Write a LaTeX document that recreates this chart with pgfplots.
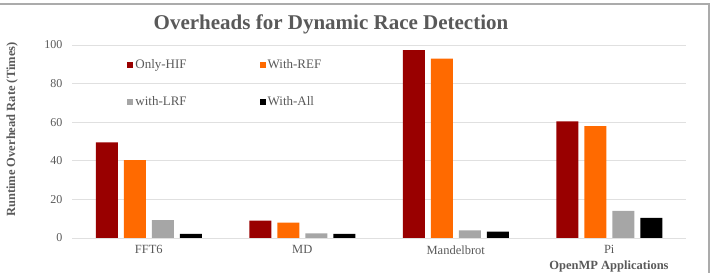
\documentclass[border=0pt]{standalone}
\usepackage{pgfplots}
\pgfplotsset{compat=1.18}
\usepackage{fontspec}
\setmainfont{Liberation Serif}

\definecolor{hif}{HTML}{990000}
\definecolor{ref}{HTML}{FF6A00}
\definecolor{lrf}{HTML}{A6A6A6}
\definecolor{allc}{HTML}{000000}
\definecolor{txt}{HTML}{595959}
\definecolor{gridc}{HTML}{E0E0E0}
\definecolor{frame}{HTML}{ABABAB}

\begin{document}
\begin{tikzpicture}[x=1pt,y=1pt]
% canvas and outer frame
\path[use as bounding box] (0,0) rectangle (714,273);
\draw[frame, line width=1.3pt] (0,269) -- (709,269) -- (709,0);

\node[txt, font=\fontsize{21}{25}\selectfont\bfseries] at (331,249) {Overheads for Dynamic Race Detection};
\node[txt, font=\fontsize{12.5}{15}\selectfont\bfseries, rotate=90] at (12,143.5) {Runtime Overhead Rate (Times)};
\node[txt, font=\fontsize{12.5}{15}\selectfont\bfseries] at (609,7) {OpenMP Applications};

\begin{axis}[
  at={(72pt,35pt)}, anchor=south west,
  scale only axis, width=614pt, height=193pt,
  xmin=-0.5, xmax=3.5, ymin=0, ymax=100,
  ybar=6pt, bar width=22pt,
  xtick={0,1,2,3},
  xticklabels={FFT6,MD,Mandelbrot,Pi},
  ytick={0,20,40,60,80,100},
  axis line style={draw=none},
  major tick length=0pt,
  ymajorgrids, grid style={gridc, line width=0.8pt},
  tick label style={txt},
  yticklabel style={font=\fontsize{12}{14}\selectfont, xshift=-6pt},
  xticklabel style={font=\fontsize{12.5}{15}\selectfont, yshift=-4pt},
  /pgf/number format/assume math mode=true,
  clip=false,
  legend columns=2,
  legend cell align=left,
  legend style={draw=none, fill=none, at={(0.085,0.945)}, anchor=north west,
    font=\fontsize{13}{15}\selectfont, text=txt, row sep=22pt,
    /tikz/every even column/.append style={column sep=71pt}},
  legend image code/.code={\fill[#1] (0pt,-3pt) rectangle (6pt,3pt);},
]
\addplot[fill=hif, draw=none] coordinates {(0,49.5) (1,9.0) (2,97.4) (3,60.4)};
\addplot[fill=ref, draw=none] coordinates {(0,40.3) (1,8.0) (2,92.9) (3,58.0)};
\addplot[fill=lrf, draw=none] coordinates {(0,9.3) (1,2.4) (2,4.0) (3,14.0)};
\addplot[fill=allc, draw=none] coordinates {(0,2.1) (1,2.1) (2,3.3) (3,10.4)};
\legend{Only-HIF,With-REF,with-LRF,With-All}
\end{axis}
\end{tikzpicture}
\end{document}
